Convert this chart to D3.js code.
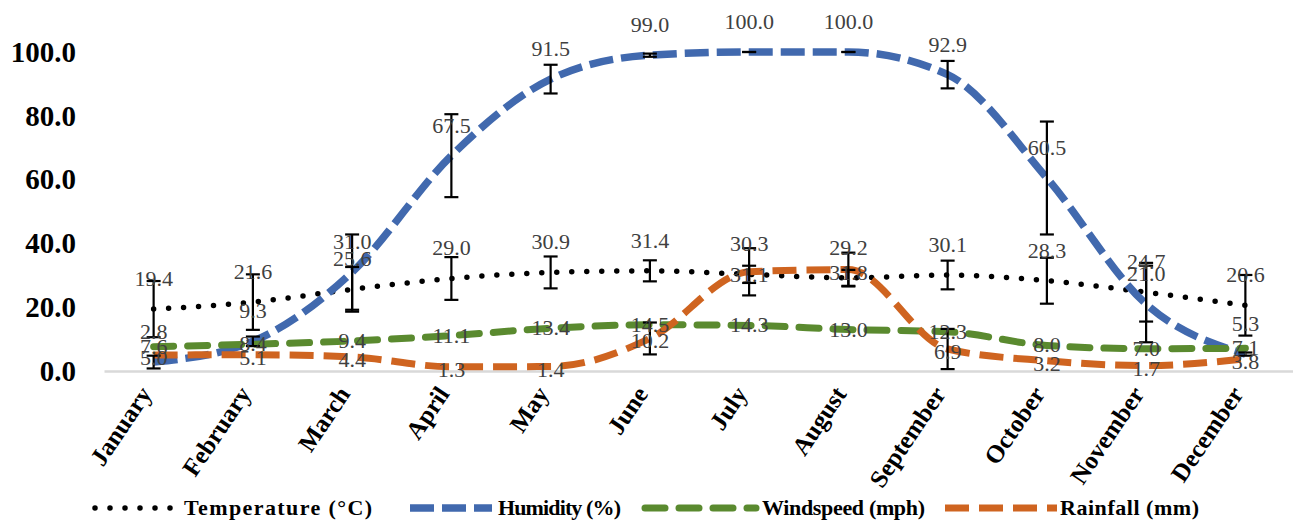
<!DOCTYPE html>
<html>
<head>
<meta charset="utf-8">
<script src="https://cdn.jsdelivr.net/npm/d3@7"></script>
<style>
  body { margin: 0; background: #fff; }
  svg { display: block; font-family: 'Liberation Serif', 'Times New Roman', serif; }
</style>
</head>
<body>
<div id="chart"></div>
<script>
const months = ['January', 'February', 'March', 'April', 'May', 'June', 'July', 'August', 'September', 'October', 'November', 'December']
const temperature = [19.4, 21.6, 25.6, 29.0, 30.9, 31.4, 30.3, 29.2, 30.1, 28.3, 24.7, 20.6]
const humidity = [2.8, 9.3, 31.0, 67.5, 91.5, 99.0, 100.0, 100.0, 92.9, 60.5, 21.0, 5.3]
const windspeed = [7.6, 8.4, 9.4, 11.1, 13.4, 14.5, 14.3, 13.0, 12.3, 8.0, 7.0, 7.1]
const rainfall = [5.0, 5.1, 4.4, 1.3, 1.4, 10.2, 31.1, 31.8, 6.9, 3.2, 1.7, 3.8]
const temperatureErr = [8.8, 8.7, 7.0, 6.7, 5.0, 3.3, 2.7, 2.5, 4.5, 7.2, 9.2, 9.5]
const humidityErr = [2.0, 1.5, 11.8, 13.0, 4.5, 0.5, 0, 0, 4.3, 17.7, 12.0, 0.5]
const rainfallErr = [0, 0, 0, 0, 0, 5.0, 7.4, 5.3, 6.3, 0, 0, 0]
const yTicks = [0, 20, 40, 60, 80, 100]

const width = 1293
const height = 522
const margin = { top: 52, right: 0, bottom: 151, left: 104 }

const series = [
  { name: 'Temperature (\u00B0C)', values: temperature, err: temperatureErr, color: '#000000', width: 5.5, dash: '0 15', cap: 'round', label: 'above' },
  { name: 'Humidity (%)', values: humidity, err: humidityErr, color: '#4169AE', width: 7.5, dash: '24 8', cap: 'butt', label: 'above' },
  { name: 'Windspeed (mph)', values: windspeed, err: null, color: '#5A8A2F', width: 7, dash: '20 14', cap: 'round', label: 'center' },
  { name: 'Rainfall (mm)', values: rainfall, err: rainfallErr, color: '#CF6420', width: 7, dash: '24 10', cap: 'butt', label: 'below' }
]

const svg = d3.select('#chart')
  .append('svg')
  .attr('width', width)
  .attr('height', height)

const x = d3.scaleBand()
  .domain(months)
  .range([margin.left, width - margin.right + 2])
  .padding(0)

const y = d3.scaleLinear()
  .domain([0, 100])
  .range([height - margin.bottom, margin.top])

const cx = m => x(m) + x.bandwidth() / 2

// y axis, labels only
const yAxisG = svg.append('g')
  .attr('transform', `translate(${margin.left}, 0)`)
  .call(d3.axisLeft(y).tickValues(yTicks).tickFormat(d3.format('.1f')).tickSize(0).tickPadding(28))
yAxisG.select('.domain').remove()
yAxisG.selectAll('text')
  .attr('font-family', "'Liberation Serif', serif")
  .attr('font-size', 29)
  .attr('font-weight', 'bold')
  .attr('fill', '#000')

// x axis
const xAxisG = svg.append('g')
  .attr('transform', `translate(0, ${y(0)})`)
  .call(d3.axisBottom(x).tickSize(0).tickPadding(0))
xAxisG.select('.domain')
  .attr('stroke', '#D9D9D9')
  .attr('stroke-width', 2.5)
xAxisG.selectAll('text')
  .attr('font-family', "'Liberation Serif', serif")
  .attr('font-size', 25)
  .attr('font-weight', 'bold')
  .attr('fill', '#000')
  .attr('text-anchor', 'end')
  .attr('dy', null)
  .attr('transform', 'translate(-1, 23) rotate(-56)')

const line = d3.line()
  .x((d, i) => cx(months[i]))
  .y(d => y(d))
  .curve(d3.curveMonotoneX)

const lineG = svg.append('g')
series.forEach(s => {
  lineG.append('path')
    .datum(s.values)
    .attr('d', line)
    .attr('fill', 'none')
    .attr('stroke', s.color)
    .attr('stroke-width', s.width)
    .attr('stroke-dasharray', s.dash)
    .attr('stroke-linecap', s.cap)
})

// error bars
const errG = svg.append('g')
  .attr('stroke', '#000')
  .attr('stroke-width', 2.2)
series.filter(s => s.err).forEach(s => {
  s.values.forEach((v, i) => {
    const e = s.err[i]
    if (e === 0 && s.label === 'below') return
    const px = cx(months[i])
    const y1 = y(v + e)
    const y2 = y(v - e)
    errG.append('line').attr('x1', px).attr('x2', px).attr('y1', y1).attr('y2', y2)
    errG.append('line').attr('x1', px - 7).attr('x2', px + 7).attr('y1', y1).attr('y2', y1)
    errG.append('line').attr('x1', px - 7).attr('x2', px + 7).attr('y1', y2).attr('y2', y2)
  })
})

// data labels
const labelG = svg.append('g')
  .attr('font-size', 22)
  .attr('fill', '#404040')
  .attr('text-anchor', 'middle')
const labelOffset = { above: -23, center: 7, below: 10 }
series.forEach(s => {
  labelG.selectAll(null)
    .data(s.values)
    .enter()
    .append('text')
    .attr('x', (d, i) => cx(months[i]))
    .attr('y', d => y(d) + labelOffset[s.label])
    .text(d => d3.format('.1f')(d))
})

// legend
const legendItems = [
  { x1: 95, x2: 178, tx: 184, tw: 188 },
  { x1: 410, x2: 492, tx: 498, tw: 123 },
  { x1: 645, x2: 756, tx: 762, tw: 163 },
  { x1: 945, x2: 1057, tx: 1060, tw: 139 }
]
const legendY = 508
const legendG = svg.append('g')
series.forEach((s, i) => {
  const item = legendItems[i]
  legendG.append('line')
    .attr('x1', item.x1)
    .attr('x2', item.x2)
    .attr('y1', legendY)
    .attr('y2', legendY)
    .attr('stroke', s.color)
    .attr('stroke-width', s.width)
    .attr('stroke-dasharray', s.dash)
    .attr('stroke-linecap', s.cap)
  legendG.append('text')
    .attr('x', item.tx)
    .attr('y', legendY + 7)
    .attr('font-size', 22)
    .attr('font-weight', 'bold')
    .attr('fill', '#000')
    .attr('textLength', item.tw)
    .attr('lengthAdjust', 'spacing')
    .text(s.name)
})
</script>
</body>
</html>
